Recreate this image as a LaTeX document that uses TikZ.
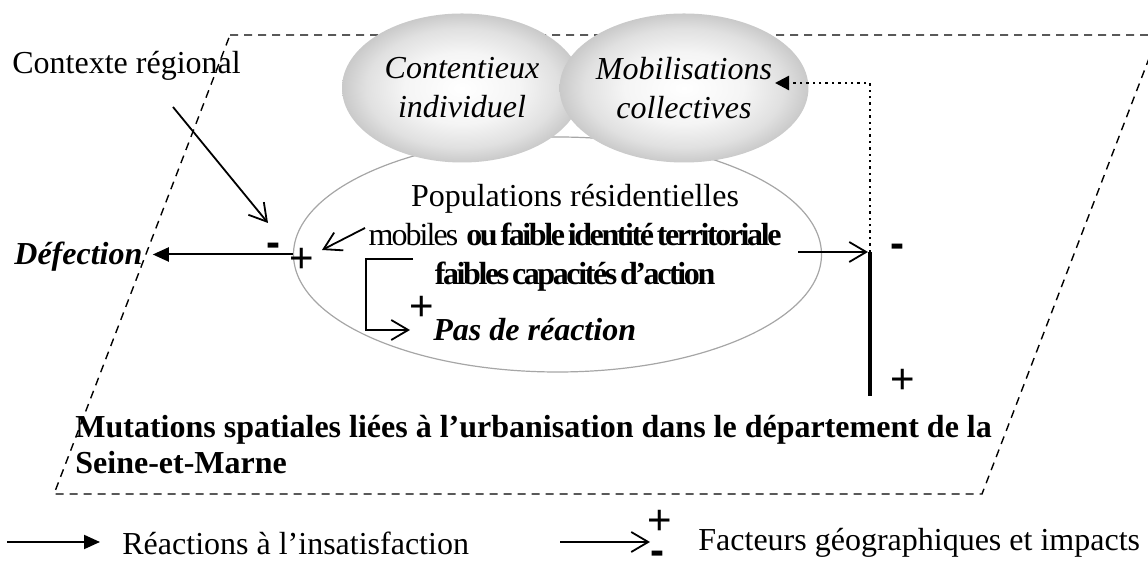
\documentclass[tikz,border=0pt]{standalone}
\usepackage{fontspec}
\setmainfont{Liberation Serif}
\newfontfamily\signfont{Liberation Sans}
\newfontfamily\tightfont[LetterSpace=-7.5,WordSpace=0.5]{Liberation Serif}
\newfontfamily\narrowfont[LetterSpace=-6]{Liberation Serif}
\usetikzlibrary{arrows.meta,positioning,shapes.geometric}
\pgfdeclareradialshading{blobshade}{\pgfpoint{0bp}{0bp}}{%
  color(0bp)=(white); color(12bp)=(black!4); color(20bp)=(black!12);
  color(25bp)=(black!21); color(50bp)=(black!21)}
\tikzset{
  frame line/.style={dash pattern=on 4pt off 3pt,line width=0.7pt},
  pop ellipse/.style={ellipse,draw=gray!70,line width=0.6pt,inner sep=0pt},
  gray blob/.style={ellipse,shading=blobshade,
    minimum height=74.5pt,inner sep=0pt,align=center,
    font=\fontsize{16}{19.5}\selectfont\itshape},
  plain text/.style={inner sep=0pt,font=\fontsize{16}{19.5}\selectfont},
  bold text/.style={plain text,font=\fontsize{16}{18}\selectfont\bfseries},
  reaction/.style={-{Triangle[length=8pt,width=7pt]},line width=1pt},
  factor/.style={-{Straight Barb[length=8.5pt,width=10pt]},line width=0.9pt},
  collective/.style={dotted,line width=1.2pt,-{Triangle[length=7pt,width=7pt]}},
  impact bar/.style={line width=2pt},
  plus sign/.style={inner sep=0pt,text height=0.72em,text depth=0pt,
    font=\signfont\fontsize{21}{21}\selectfont},
  minus sign/.style={inner sep=0pt,text height=0.42em,text depth=0pt,
    font=\signfont\bfseries\fontsize{21}{21}\selectfont},
}

\begin{document}
\begin{tikzpicture}[x=0.5pt,y=-0.5pt]
  \useasboundingbox (0,0) rectangle (1148,565);
  \clip (0,0) rectangle (1148,565);
  % cadre du departement
  \draw[frame line] (230,35) -- (1158,35) -- (982,494) -- (54,494) -- cycle;
  % ellipses
  \node[pop ellipse,minimum width=264pt,minimum height=117.5pt] (pop) at (557.5,254.5) {};
  \node[gray blob,minimum width=120pt] (cont) at (462,88) {Contentieux\\individuel};
  \node[gray blob,minimum width=116pt] (mobil) at (684,88) {Mobilisations\\collectives};
  \node[plain text,align=center] (poptext) at (575,238)
    {Populations résidentielles\\{\narrowfont mobiles} {\tightfont\bfseries ou faible identité territoriale}\\{\tightfont\bfseries faibles capacités d’action}};
  % contexte et defection
  \node[plain text,anchor=west] (ctx) at (12,66) {Contexte régional};
  \node[bold text,font=\fontsize{16}{18}\selectfont\bfseries\itshape,anchor=west] (defect) at (14,257) {Défection};
  \node[minus sign] (minusL) at (273,252) {-};
  \node[plus sign] (plusL) at (302,265) {+};
  \coordinate (ctxfoot) at (173,107);
  \coordinate (ctxtip) at (268,223);
  \draw[factor] (ctxfoot) -- (ctxtip);
  \draw[reaction] (pop.west) -- ([xshift=5pt]defect.east |- pop.west);
  \coordinate (mobfoot) at (365,228);
  \coordinate (mobtip) at (322,250);
  \draw[factor] (mobfoot) -- (mobtip);
  % pas de reaction
  \node[bold text,font=\fontsize{16}{18}\selectfont\bfseries\itshape,anchor=west] (pas) at (433,330) {Pas de réaction};
  \node[plus sign] (plusP) at (422,313) {+};
  \coordinate (brk) at (413,259);
  \draw[factor] (brk) -- (366,259) |- ([xshift=-11.5pt]pas.west);
  % barre des impacts
  \coordinate (popright) at (798,252);
  \coordinate (bartop) at (870,252);
  \coordinate (barbot) at (870,396);
  \draw[impact bar] (bartop) -- (barbot);
  \draw[factor] (popright) -- ([xshift=-1pt]bartop);
  \coordinate (mobtop) at (775,83);
  \draw[collective] (bartop) |- (mobtop);
  \node[minus sign] (minusR) at (897,253) {-};
  \node[plus sign] (plusR) at (903,386) {+};
  % territoire
  \node[bold text,align=left,anchor=west] (terr) at (75,445)
    {Mutations spatiales liées à l’urbanisation dans le département de la\\Seine-et-Marne};
  % legende
  \node[plain text,anchor=west] (legR) at (122,543) {Réactions à l’insatisfaction};
  \coordinate (legRstart) at (7,542);
  \draw[reaction] (legRstart) -- ([xshift=-11pt]legR.west |- legRstart);
  \node[plain text,anchor=west] (legF) at (698,543) {Facteurs géographiques et impacts};
  \node[plus sign] (legplus) at (660,527) {+};
  \node[minus sign] (legminus) at (657,560) {-};
  \coordinate (legFstart) at (560,542);
  \draw[factor] (legFstart) -- (650,542);
\end{tikzpicture}
\end{document}
